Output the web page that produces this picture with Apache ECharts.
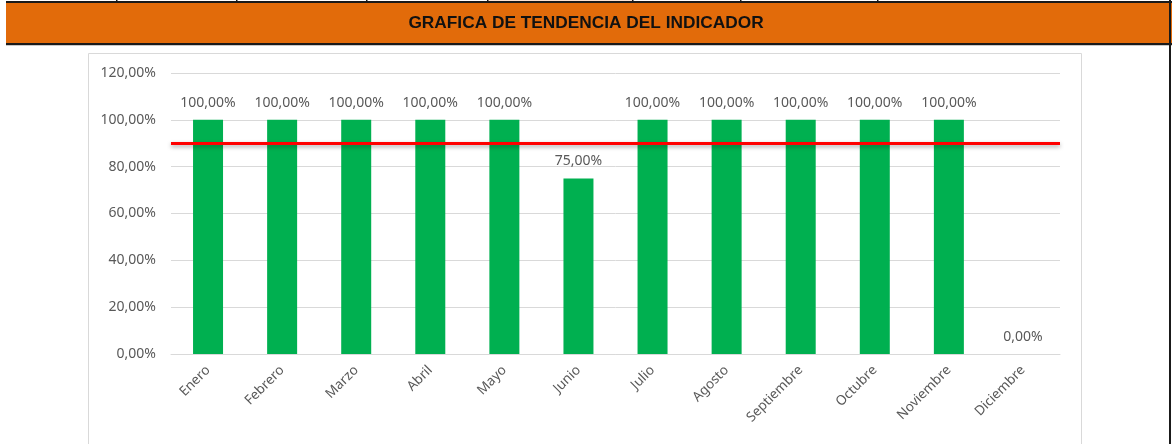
<!DOCTYPE html>
<html>
<head>
<meta charset="utf-8">
<script src="https://cdn.jsdelivr.net/npm/echarts@6/dist/echarts.min.js"></script>
<style>
html,body{margin:0;padding:0;background:#fff;}
#c{width:1172px;height:444px;}
</style>
</head>
<body>
<div id="c"></div>
<script>
var title = 'GRAFICA DE TENDENCIA DEL INDICADOR';
var months = ['Enero','Febrero','Marzo','Abril','Mayo','Junio','Julio','Agosto','Septiembre','Octubre','Noviembre','Diciembre'];
var values = [100,100,100,100,100,75,100,100,100,100,100,0];
var target = 90;
var yTicks = [0,20,40,60,80,100,120];

function pct(v){ return Number(v).toFixed(2).replace('.', ',') + '%'; }

var chart = echarts.init(document.getElementById('c'), null, {renderer:'canvas'});
var colLines = [116,236,366,487,632,740,877];
var graphics = [
  {type:'rect', shape:{x:487,y:0,width:145,height:3}, style:{fill:'#fce4d6'}, z:0},
  {type:'rect', shape:{x:6,y:2,width:1166,height:42}, style:{fill:'#e26b0a'}, z:0},
  {type:'rect', shape:{x:6,y:1,width:1166,height:2}, style:{fill:'#1a1a1a'}, z:1},
  {type:'rect', shape:{x:6,y:43,width:1166,height:2}, style:{fill:'#1a1a1a'}, z:1},
  {type:'rect', shape:{x:6,y:45,width:1166,height:1}, style:{fill:'#c8c8c8'}, z:1},
  {type:'rect', shape:{x:1169,y:0,width:2,height:444}, style:{fill:'#1a1a1a'}, z:1},
  {type:'text', x:586, y:23, style:{text:title, fill:'#111', font:'bold 17.3px "Liberation Sans", Arial, sans-serif', textAlign:'center', textVerticalAlign:'middle'}, z:2},
  {type:'rect', shape:{x:88.5,y:53.5,width:993,height:400}, style:{fill:'none', stroke:'#d9d9d9', lineWidth:1}, z:0}
];
colLines.forEach(function(x){
  graphics.push({type:'rect', shape:{x:x,y:0,width:1.5,height:3}, style:{fill:'#1a1a1a'}, z:1});
});

chart.setOption({
  animation:false,
  textStyle:{fontFamily:'"Noto Sans", "Open Sans", sans-serif'},
  graphic: graphics,
  grid:{left:171, right:112, top:73, bottom:90, containLabel:false},
  xAxis:{
    type:'category', data:months,
    axisLine:{show:true, lineStyle:{color:'#d9d9d9', width:1}},
    axisTick:{show:false},
    axisLabel:{rotate:45, color:'#595959', fontSize:13.5, margin:14, interval:0}
  },
  yAxis:{
    type:'value', min:yTicks[0], max:yTicks[yTicks.length-1], interval:20,
    axisLine:{show:false}, axisTick:{show:false},
    splitLine:{lineStyle:{color:'#d9d9d9', width:1}},
    axisLabel:{color:'#595959', fontSize:14, margin:15, formatter:function(v){return pct(v);}}
  },
  series:[{
    type:'bar', data:values, barWidth:30,
    itemStyle:{color:'#00b050'},
    label:{show:true, position:'top', distance:10, color:'#595959', fontSize:14, formatter:function(p){return pct(p.value);}},
    markLine:{
      silent:true, symbol:['none','none'],
      label:{show:false},
      lineStyle:{color:'#ff0000', width:3, type:'solid', shadowColor:'rgba(0,0,0,0.35)', shadowBlur:4, shadowOffsetY:2},
      data:[{yAxis:target}]
    }
  }]
});
</script>
</body>
</html>
